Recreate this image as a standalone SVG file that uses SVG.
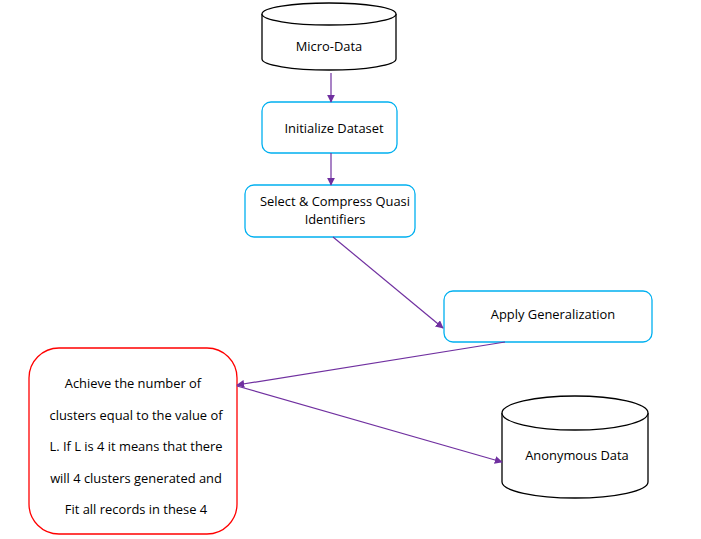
<svg xmlns="http://www.w3.org/2000/svg" width="701" height="539" viewBox="0 0 701 539">
<defs>
<style>
text{font-family:"Open Sans","Liberation Sans",sans-serif;font-size:12.9px;fill:#000;text-anchor:middle}
.cyl{fill:#fff;stroke:#000;stroke-width:1.3}
.blue{fill:#fff;stroke:#00B0F0;stroke-width:1.3}
.red{fill:#fff;stroke:#FF0000;stroke-width:1.3}
.conn{stroke:#7030A0;stroke-width:1.2;fill:none;marker-end:url(#ah)}
</style>
<marker id="ah" viewBox="0 0 10 10" refX="9" refY="5" markerWidth="8" markerHeight="8" markerUnits="userSpaceOnUse" orient="auto">
<path d="M0,0 L10,5 L0,10 z" fill="#7030A0"/>
</marker>
</defs>
<rect width="701" height="539" fill="#fff"/>
<g id="micro-data">
<path class="cyl" d="M262,14 A67,11 0 0 1 396,14 L396,59 A67,11 0 0 1 262,59 Z"/>
<path class="cyl" fill="none" d="M262,14 A67,11 0 0 0 396,14"/>
<text x="329" y="51">Micro-Data</text>
</g>
<g id="initialize">
<rect class="blue" x="262" y="102" width="135" height="51" rx="9"/>
<text x="334" y="133">Initialize Dataset</text>
</g>
<g id="select">
<rect class="blue" x="245" y="185" width="170" height="52" rx="9"/>
<text x="335" y="206">Select &amp; Compress Quasi</text>
<text x="335" y="224">Identifiers</text>
</g>
<g id="apply">
<rect class="blue" x="444" y="291" width="208" height="51" rx="9"/>
<text x="553" y="319">Apply Generalization</text>
</g>
<g id="achieve">
<rect class="red" x="29" y="348" width="208" height="186" rx="30"/>
<text x="133" y="388">Achieve the number of</text>
<text x="136" y="420">clusters equal to the value of</text>
<text x="136" y="451">L. If L is 4 it means that there</text>
<text x="136" y="483">will 4 clusters generated and</text>
<text x="136" y="514">Fit all records in these 4</text>
</g>
<g id="anonymous">
<path class="cyl" d="M502,413 A73,17 0 0 1 648,413 L648,482 A73,16 0 0 1 502,482 Z"/>
<path class="cyl" fill="none" d="M502,413 A73,17 0 0 0 648,413"/>
<text x="577" y="460">Anonymous Data</text>
</g>
<g id="connectors">
<path class="conn" d="M331,73 L331,102"/>
<path class="conn" d="M331,153 L331,185"/>
<path class="conn" d="M333,237 L443,328"/>
<path class="conn" d="M505,342 L237,385"/>
<path class="conn" d="M237,386 L502,462"/>
</g>
</svg>
